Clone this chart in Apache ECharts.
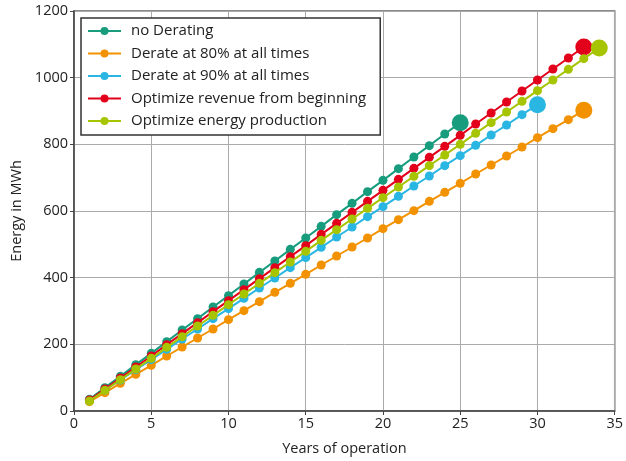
<!DOCTYPE html>
<html><head><meta charset="utf-8">
<script src="https://cdn.jsdelivr.net/npm/echarts@6/dist/echarts.min.js"></script>
<style>html,body{margin:0;padding:0;background:#fff}#c{width:626px;height:461px}</style>
</head><body><div id="c"></div>
<script>
const seriesNames = ["no Derating","Derate at 80% at all times","Derate at 90% at all times","Optimize revenue from beginning","Optimize energy production"];
const noDerating = [35,70,104,139,173,208,243,277,312,346,381,416,450,485,519,554,589,623,658,692,727,762,796,831,865];
const derate80 = [28,55,83,110,137,165,192,219,246,274,301,328,356,383,410,438,465,492,519,547,574,601,629,656,683,711,738,765,792,820,847,874,902];
const derate90 = [32,63,93,124,154,185,216,246,277,307,338,369,399,430,460,491,522,552,583,613,644,675,705,736,766,797,828,858,889,919];
const optRevenue = [33,66,99,132,165,199,232,265,298,331,364,397,430,463,496,530,563,596,629,662,695,728,761,794,827,861,894,927,960,993,1026,1059,1092];
const optEnergy = [30,62,94,126,158,191,223,255,287,319,351,383,415,447,479,512,544,576,608,640,672,704,736,768,800,833,865,897,929,961,993,1025,1057,1089];
const xTicks = [0,5,10,15,20,25,30,35];
const yTicks = [0,200,400,600,800,1000,1200];

const colors = ["#179c7d","#f39200","#29b6e2","#e2001a","#a6c400"];
const allData = [noDerating, derate80, derate90, optRevenue, optEnergy];

const series = allData.map((arr, i) => ({
  name: seriesNames[i],
  type: 'line',
  data: arr.map((v, k) => k === arr.length - 1 ? {value: [k + 1, v], symbolSize: 17} : [k + 1, v]),
  symbol: 'circle',
  symbolSize: 9,
  showSymbol: true,
  lineStyle: {width: 2, color: colors[i]},
  itemStyle: {color: colors[i]},
  emphasis: {disabled: true},
  animation: false,
  z: 2 + i
}));

const chart = echarts.init(document.getElementById('c'), null, {renderer: 'canvas'});
chart.setOption({
  animation: false,
  textStyle: {fontFamily: 'Open Sans'},
  grid: {left: 74, right: 8, top: 11, bottom: 45, show: true, borderColor: '#666', borderWidth: 1.5, backgroundColor: 'transparent'},
  legend: {
    orient: 'vertical', left: 81, top: 18,
    padding: [5, 14, 6, 6],
    itemWidth: 33, itemHeight: 10, itemGap: 6.5,
    borderColor: '#333', borderWidth: 1.5,
    backgroundColor: '#fff',
    textStyle: {fontSize: 15, lineHeight: 16, color: '#222', fontFamily: 'Open Sans', padding: [0, 0, 0, 5]},
    data: seriesNames
  },
  xAxis: {
    type: 'value', min: xTicks[0], max: xTicks[xTicks.length - 1], interval: 5,
    name: 'Years of operation', nameLocation: 'middle', nameGap: 30,
    nameTextStyle: {fontSize: 14.5, color: '#222'},
    axisLine: {show: true, lineStyle: {color: '#444', width: 1.5}},
    axisTick: {show: true, inside: false, length: 4, lineStyle: {color: '#444'}},
    axisLabel: {fontSize: 14.5, color: '#222', margin: 5},
    splitLine: {show: true, lineStyle: {color: '#aaa', width: 1}}
  },
  yAxis: {
    type: 'value', min: yTicks[0], max: yTicks[yTicks.length - 1], interval: 200,
    name: 'Energy in MWh', nameLocation: 'middle', nameGap: 50,
    nameTextStyle: {fontSize: 14.5, color: '#222'},
    axisLine: {show: true, lineStyle: {color: '#444', width: 1.5}},
    axisTick: {show: true, inside: false, length: 4, lineStyle: {color: '#444'}},
    axisLabel: {fontSize: 14.5, color: '#222', margin: 6, formatter: v => String(v)},
    splitLine: {show: true, lineStyle: {color: '#aaa', width: 1}}
  },
  series: series
});
</script></body></html>
